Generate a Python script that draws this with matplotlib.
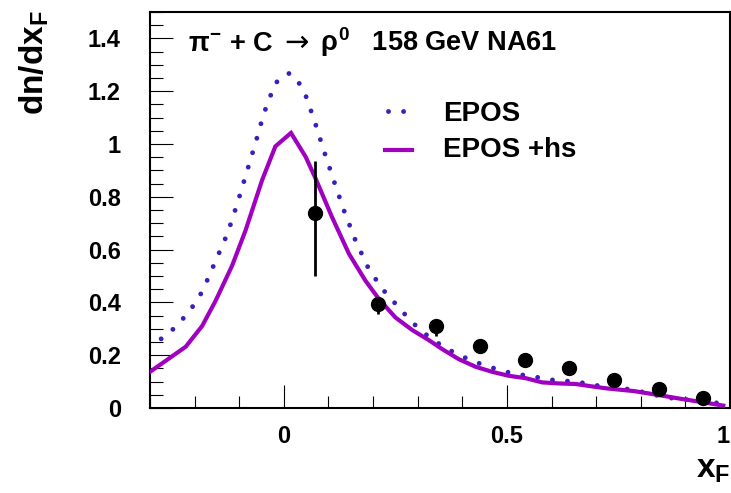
import matplotlib
matplotlib.use("Agg")
import matplotlib.pyplot as plt
from matplotlib.ticker import FixedLocator, MultipleLocator
from matplotlib.offsetbox import TextArea, HPacker, AnchoredOffsetbox

# ---- model curves: dn/dxF versus xF ----
epos_x = [-0.275, -0.245, -0.222, -0.200, -0.182, -0.154, -0.126, -0.104, -0.084,
          -0.064, -0.045, -0.032, -0.021, 0.004, 0.015, 0.028, 0.046, 0.069, 0.090,
          0.112, 0.135, 0.160, 0.189, 0.209, 0.229, 0.253, 0.276, 0.301, 0.327,
          0.356, 0.386, 0.419, 0.452, 0.484, 0.518, 0.553, 0.587, 0.620, 0.656,
          0.690, 0.725, 0.759, 0.800, 0.830, 0.866, 0.905, 0.968, 0.990]
epos_y = [0.262, 0.303, 0.346, 0.394, 0.444, 0.553, 0.662, 0.776, 0.889,
          1.001, 1.115, 1.172, 1.227, 1.265, 1.268, 1.247, 1.198, 1.086, 0.973,
          0.861, 0.747, 0.637, 0.531, 0.480, 0.434, 0.390, 0.346, 0.303, 0.267,
          0.234, 0.206, 0.181, 0.160, 0.144, 0.128, 0.122, 0.109, 0.103, 0.100,
          0.088, 0.080, 0.075, 0.062, 0.050, 0.038, 0.031, 0.020, 0.012]

eposhs_x = [-0.300, -0.220, -0.183, -0.153, -0.116, -0.086, -0.049, -0.019, 0.016,
            0.049, 0.071, 0.108, 0.146, 0.183, 0.213, 0.250, 0.288, 0.325, 0.355,
            0.392, 0.430, 0.467, 0.504, 0.542, 0.579, 0.617, 0.654, 0.690, 0.725,
            0.785, 0.837, 0.889, 0.942, 0.985]
eposhs_y = [0.137, 0.232, 0.311, 0.406, 0.539, 0.672, 0.862, 0.991, 1.042,
            0.951, 0.870, 0.723, 0.584, 0.482, 0.413, 0.343, 0.295, 0.257, 0.223,
            0.185, 0.156, 0.137, 0.122, 0.113, 0.097, 0.093, 0.091, 0.082, 0.074,
            0.064, 0.050, 0.035, 0.021, 0.009]

# ---- NA61 measurement ----
data_x = [0.07, 0.21, 0.34, 0.44, 0.54, 0.64, 0.74, 0.84, 0.94]
data_y = [0.738, 0.394, 0.311, 0.233, 0.181, 0.151, 0.105, 0.073, 0.037]
data_err_lo = [0.238, 0.037, 0.037, 0.02, 0.02, 0.02, 0.02, 0.02, 0.02]
data_err_hi = [0.196, 0.02, 0.02, 0.02, 0.02, 0.02, 0.02, 0.02, 0.02]

series_names = ["EPOS", "EPOS +hs"]
title_parts = [r"$\pi^{-}$ + C", "\u2192", r"$\rho^{\mathbf{0}}$   158 GeV NA61"]

xtick_values = [0.0, 0.5, 1.0]
xtick_labels = ["0", "0.5", "1"]
ytick_values = [0.0, 0.2, 0.4, 0.6, 0.8, 1.0, 1.2, 1.4]
ytick_labels = ["0", "0.2", "0.4", "0.6", "0.8", "1", "1.2", "1.4"]

plt.rcParams["font.family"] = ["Liberation Sans", "DejaVu Sans"]
plt.rcParams["font.weight"] = "bold"
plt.rcParams["mathtext.fontset"] = "custom"
plt.rcParams["mathtext.rm"] = "Liberation Sans"
plt.rcParams["mathtext.it"] = "Liberation Sans"
plt.rcParams["mathtext.sf"] = "Liberation Sans"
plt.rcParams["mathtext.bf"] = "Liberation Sans:bold"

DOT_COLOR = "#3a20bb"
LINE_COLOR = "#a000c0"

fig = plt.figure(figsize=(7.31, 4.93), dpi=100)
ax = fig.add_axes([150 / 731, 1 - 408 / 493, 580 / 731, 396 / 493])

dot_style = dict(color=DOT_COLOR, linewidth=3.5, linestyle=(0, (0.001, 3.1)),
                 dash_capstyle="round", solid_capstyle="round")
line_style = dict(color=LINE_COLOR, linewidth=3.0, solid_joinstyle="miter")

ax.plot(epos_x, epos_y, zorder=2, **dot_style)
ax.plot(eposhs_x, eposhs_y, zorder=3, **line_style)
ax.errorbar(data_x, data_y, yerr=[data_err_lo, data_err_hi], fmt="o",
            color="black", markersize=10, elinewidth=2.0, capsize=0, zorder=4)

ax.set_xlim(-0.3, 1.0)
ax.set_ylim(0.0, 1.5)

ax.xaxis.set_major_locator(FixedLocator(xtick_values))
ax.set_xticklabels(xtick_labels)
ax.xaxis.set_minor_locator(MultipleLocator(0.1))
ax.yaxis.set_major_locator(FixedLocator(ytick_values))
ax.set_yticklabels(ytick_labels)
ax.yaxis.set_minor_locator(MultipleLocator(0.05))

ax.tick_params(which="both", direction="in", top=False, right=False,
               color="black", width=0.8)
ax.tick_params(which="major", length=16.5, labelsize=17)
ax.tick_params(which="minor", length=9)
ax.tick_params(axis="y", which="major", pad=21)
ax.tick_params(axis="x", which="major", pad=12)
# keep the last x label inside the canvas
ax.get_xticklabels()[-1].set_horizontalalignment("right")
for s in ax.spines.values():
    s.set_linewidth(1.5)

# title inside the frame: bold text with a plain arrow
bold_props = dict(fontsize=19.5, fontweight="bold", family=["Liberation Sans", "DejaVu Sans"])
arrow_props = dict(fontsize=21, fontweight="normal", family=["DejaVu Sans"])
title_box = HPacker(children=[TextArea(title_parts[0], textprops=bold_props),
                              TextArea(title_parts[1], textprops=arrow_props),
                              TextArea(title_parts[2], textprops=bold_props)],
                    align="baseline", pad=0, sep=8)
ax.add_artist(AnchoredOffsetbox(loc="lower left", child=title_box, pad=0,
                                borderpad=0, frameon=False,
                                bbox_to_anchor=(0.0655, 0.882),
                                bbox_transform=ax.transAxes))

# legend
ax.plot([0.410, 0.452], [0.749, 0.749], transform=ax.transAxes, **dot_style)
ax.plot([0.405, 0.452], [0.6515, 0.6515], transform=ax.transAxes, **line_style)
ax.text(0.505, 0.7255, series_names[0], transform=ax.transAxes, fontsize=20,
        fontweight="bold", ha="left", va="baseline")
ax.text(0.505, 0.634, series_names[1], transform=ax.transAxes, fontsize=20,
        fontweight="bold", ha="left", va="baseline")

# axis titles, ROOT style at the axis ends
fig.text(34 / 731, 1 - 10 / 493, r"dn/dx$_{\mathbf{F}}$", rotation=90,
         fontsize=24, fontweight="bold", ha="center", va="top")
fig.text(0.999, 1 - 478 / 493, r"x$_{\mathbf{F}}$", fontsize=24,
         fontweight="bold", ha="right", va="baseline")

fig.savefig("out.png", dpi=100)
